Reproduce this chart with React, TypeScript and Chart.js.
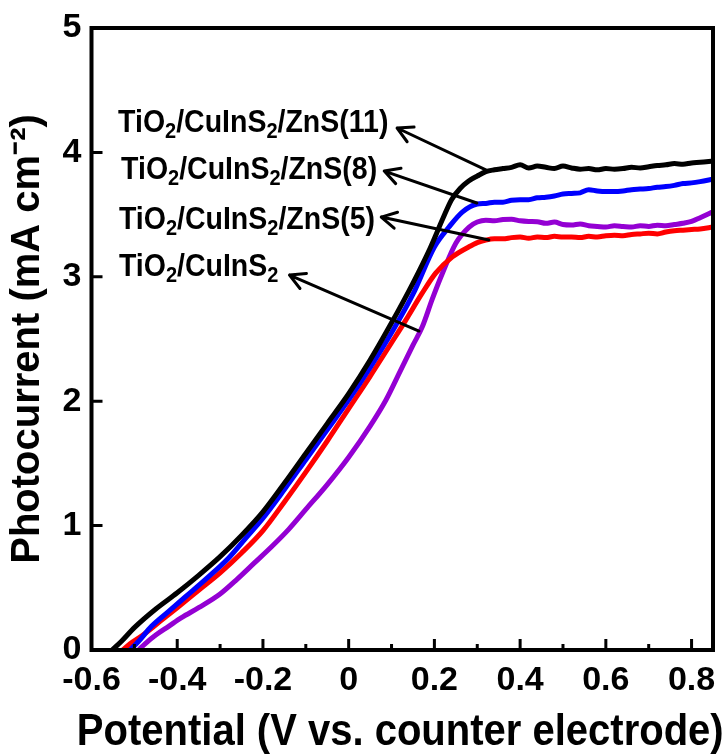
import React, { useEffect, useRef } from 'react';
import { Chart, registerables } from 'chart.js';

Chart.register(...registerables);

const FONT = '"Liberation Sans", Arial, Helvetica, sans-serif';

// ---- axis ticks / titles ----
const xMajorTicks = [-0.6, -0.4, -0.2, 0, 0.2, 0.4, 0.6, 0.8];
const xMinorTicks = [-0.5, -0.3, -0.1, 0.1, 0.3, 0.5, 0.7];
const yMajorTicks = [0, 1, 2, 3, 4, 5];
const xTitle = 'Potential (V vs. counter electrode)';
const yTitle = 'Photocurrent (mA cm\u207B\u00B2)';

// ---- series: TiO2/CuInS2/ZnS(11) (black) ----
const zns11Potential = [-0.552, -0.53, -0.5, -0.45, -0.4, -0.35, -0.3, -0.25, -0.2, -0.15, -0.1, -0.05,
  0, 0.05, 0.1, 0.15, 0.19, 0.22, 0.24, 0.26, 0.28, 0.3,
  0.32, 0.34, 0.36, 0.38, 0.4, 0.42, 0.44, 0.46, 0.48, 0.5, 0.52, 0.54, 0.56, 0.58, 0.6, 0.62, 0.64,
  0.66, 0.68, 0.7, 0.72, 0.74, 0.76, 0.78, 0.8, 0.82, 0.85];
const zns11Current = [0, 0.07, 0.18, 0.33, 0.46, 0.6, 0.75, 0.92, 1.11, 1.34, 1.58, 1.82,
  2.06, 2.33, 2.63, 2.95, 3.23, 3.47, 3.62, 3.71, 3.77, 3.81,
  3.845, 3.86, 3.87, 3.88, 3.9, 3.875, 3.89, 3.88, 3.87, 3.89, 3.875, 3.865, 3.87, 3.86, 3.87, 3.865, 3.87,
  3.88, 3.875, 3.885, 3.895, 3.9, 3.91, 3.905, 3.915, 3.92, 3.93];

// ---- series: TiO2/CuInS2/ZnS(8) (blue) ----
const zns8Potential = [-0.51, -0.49, -0.46, -0.42, -0.38, -0.33, -0.28, -0.24, -0.2, -0.15, -0.1, -0.05,
  0, 0.05, 0.1, 0.15, 0.2, 0.234, 0.265, 0.3,
  0.32, 0.34, 0.36, 0.38, 0.4, 0.42, 0.44, 0.46, 0.48, 0.5, 0.52, 0.54, 0.56, 0.58, 0.6, 0.62, 0.64,
  0.66, 0.68, 0.7, 0.72, 0.74, 0.76, 0.78, 0.8, 0.82, 0.85];
const zns8Current = [0, 0.07, 0.19, 0.31, 0.43, 0.58, 0.74, 0.9, 1.06, 1.29, 1.53, 1.77,
  2.01, 2.27, 2.55, 2.86, 3.24, 3.4, 3.52, 3.585,
  3.59, 3.6, 3.6, 3.615, 3.62, 3.62, 3.635, 3.64, 3.65, 3.665, 3.67, 3.675, 3.7, 3.69, 3.685, 3.685, 3.69,
  3.7, 3.705, 3.71, 3.72, 3.725, 3.735, 3.75, 3.755, 3.765, 3.785];

// ---- series: TiO2/CuInS2/ZnS(5) (red) ----
const zns5Potential = [-0.527, -0.51, -0.48, -0.44, -0.4, -0.35, -0.3, -0.25, -0.2, -0.15, -0.1, -0.05,
  0, 0.05, 0.1, 0.133, 0.17, 0.203, 0.242, 0.28, 0.3,
  0.32, 0.34, 0.36, 0.38, 0.4, 0.42, 0.44, 0.46, 0.48, 0.5, 0.52, 0.54, 0.56, 0.58, 0.6, 0.62, 0.64,
  0.66, 0.68, 0.7, 0.72, 0.74, 0.76, 0.78, 0.8, 0.82, 0.85];
const zns5Current = [0, 0.05, 0.12, 0.23, 0.34, 0.48, 0.62, 0.78, 0.96, 1.19, 1.43, 1.68,
  1.94, 2.2, 2.47, 2.65, 2.86, 3.03, 3.16, 3.24, 3.275,
  3.295, 3.305, 3.305, 3.315, 3.32, 3.31, 3.32, 3.315, 3.325, 3.32, 3.32, 3.315, 3.325, 3.32, 3.33, 3.335, 3.33,
  3.34, 3.345, 3.35, 3.345, 3.36, 3.37, 3.375, 3.38, 3.385, 3.4];

// ---- series: TiO2/CuInS2 (purple) ----
const cuinsPotential = [-0.49, -0.475, -0.45, -0.42, -0.39, -0.35, -0.3, -0.26, -0.22, -0.18, -0.14, -0.1,
  -0.05, 0, 0.05, 0.087, 0.12, 0.15, 0.172, 0.195, 0.219, 0.25, 0.281, 0.3,
  0.32, 0.34, 0.36, 0.38, 0.4, 0.42, 0.44, 0.46, 0.48, 0.5, 0.52, 0.54, 0.56, 0.58, 0.6, 0.62, 0.64,
  0.66, 0.68, 0.7, 0.72, 0.74, 0.76, 0.78, 0.8, 0.82, 0.85];
const cuinsCurrent = [0, 0.05, 0.12, 0.19, 0.26, 0.34, 0.45, 0.57, 0.7, 0.83, 0.97, 1.13,
  1.33, 1.55, 1.8, 2.01, 2.24, 2.45, 2.6, 2.82, 3.03, 3.27, 3.4, 3.44,
  3.455, 3.45, 3.46, 3.462, 3.45, 3.445, 3.443, 3.43, 3.44, 3.42, 3.416, 3.425, 3.41, 3.405, 3.4, 3.41, 3.405,
  3.4, 3.41, 3.405, 3.415, 3.41, 3.42, 3.43, 3.445, 3.475, 3.523];

const seriesNames = ['TiO2/CuInS2/ZnS(11)', 'TiO2/CuInS2/ZnS(8)', 'TiO2/CuInS2/ZnS(5)', 'TiO2/CuInS2'];
const seriesColors = ['#000000', '#0000ff', '#ff0000', '#9400d3'];
const seriesPotentials = [zns11Potential, zns8Potential, zns5Potential, cuinsPotential];
const seriesCurrents = [zns11Current, zns8Current, zns5Current, cuinsCurrent];

// ---- annotations (text with subscripts, arrows) in data units ----
const labelSegments: [string, boolean][][] = [
  [['TiO', false], ['2', true], ['/CuInS', false], ['2', true], ['/ZnS(11)', false]],
  [['TiO', false], ['2', true], ['/CuInS', false], ['2', true], ['/ZnS(8)', false]],
  [['TiO', false], ['2', true], ['/CuInS', false], ['2', true], ['/ZnS(5)', false]],
  [['TiO', false], ['2', true], ['/CuInS', false], ['2', true]],
];
const labelX = [-0.538, -0.531, -0.536, -0.536];
const labelY = [4.25, 3.875, 3.473, 3.095];
const arrowTailX = [0.32, 0.299, 0.327, 0.164];
const arrowTailY = [3.86, 3.593, 3.296, 2.564];
const arrowHeadX = [0.113, 0.083, 0.076, -0.138];
const arrowHeadY = [4.196, 3.85, 3.48, 3.014];

const LABEL_SIZE = 28.5;
const SUB_SIZE = 20;
const TEXT_STRETCH = 1.08;

const framePlugin = {
  id: 'frameAndTicks',
  afterDatasetsDraw(chart: any) {
    const { ctx, chartArea: a, scales } = chart;
    const xs = scales.x;
    const ys = scales.y;
    ctx.save();
    ctx.strokeStyle = '#000';
    ctx.lineCap = 'butt';
    ctx.lineWidth = 3;
    ctx.beginPath();
    xMajorTicks.forEach((v) => {
      const px = xs.getPixelForValue(v);
      ctx.moveTo(px, a.bottom);
      ctx.lineTo(px, a.bottom - 11);
    });
    xMinorTicks.forEach((v) => {
      const px = xs.getPixelForValue(v);
      ctx.moveTo(px, a.bottom);
      ctx.lineTo(px, a.bottom - 6);
    });
    yMajorTicks.forEach((v) => {
      const py = ys.getPixelForValue(v);
      ctx.moveTo(a.left, py);
      ctx.lineTo(a.left + 11, py);
    });
    ctx.stroke();
    ctx.lineWidth = 4;
    ctx.strokeRect(a.left, a.top, a.right - a.left, a.bottom - a.top);

    // x axis title (drawn here so it is not squeezed to the plot width)
    ctx.fillStyle = '#000';
    ctx.font = `bold 40px ${FONT}`;
    ctx.textAlign = 'center';
    ctx.textBaseline = 'alphabetic';
    ctx.translate((a.left + a.right) / 2 - 2, 745);
    ctx.scale(1, 1.1);
    ctx.fillText(xTitle, 0, 0);
    ctx.restore();
  },
};

const annotationPlugin = {
  id: 'labelsAndArrows',
  afterDatasetsDraw(chart: any) {
    const { ctx, scales } = chart;
    const xs = scales.x;
    const ys = scales.y;
    ctx.save();
    ctx.fillStyle = '#000';
    ctx.strokeStyle = '#000';
    ctx.textAlign = 'left';
    ctx.textBaseline = 'alphabetic';
    labelSegments.forEach((segs, i) => {
      let px = xs.getPixelForValue(labelX[i]);
      const mid = ys.getPixelForValue(labelY[i]);
      const base = mid + 0.358 * LABEL_SIZE * TEXT_STRETCH;
      segs.forEach(([t, sub]) => {
        ctx.font = `bold ${sub ? SUB_SIZE : LABEL_SIZE}px ${FONT}`;
        ctx.save();
        ctx.translate(px, sub ? base + 6 : base);
        ctx.scale(1, TEXT_STRETCH);
        ctx.fillText(t, 0, 0);
        ctx.restore();
        px += ctx.measureText(t).width;
      });
    });
    ctx.lineWidth = 3;
    ctx.lineCap = 'round';
    ctx.lineJoin = 'round';
    for (let i = 0; i < arrowTailX.length; i++) {
      const tx = xs.getPixelForValue(arrowTailX[i]);
      const ty = ys.getPixelForValue(arrowTailY[i]);
      const hx = xs.getPixelForValue(arrowHeadX[i]);
      const hy = ys.getPixelForValue(arrowHeadY[i]);
      const ang = Math.atan2(hy - ty, hx - tx);
      const L = 17;
      const spread = 0.5;
      ctx.beginPath();
      ctx.moveTo(tx, ty);
      ctx.lineTo(hx, hy);
      ctx.moveTo(hx - L * Math.cos(ang - spread), hy - L * Math.sin(ang - spread));
      ctx.lineTo(hx, hy);
      ctx.lineTo(hx - L * Math.cos(ang + spread), hy - L * Math.sin(ang + spread));
      ctx.stroke();
    }
    ctx.restore();
  },
};

export default function App() {
  const canvasRef = useRef<HTMLCanvasElement | null>(null);

  useEffect(() => {
    const canvas = canvasRef.current;
    if (!canvas) return;
    const datasets = seriesNames.map((name, i) => ({
      label: name,
      data: seriesPotentials[i].map((x, j) => ({ x, y: seriesCurrents[i][j] })),
      borderColor: seriesColors[i],
      backgroundColor: seriesColors[i],
      borderWidth: 5,
      pointRadius: 0,
      cubicInterpolationMode: 'monotone' as const,
      fill: false,
    }));

    const chart = new Chart(canvas, {
      type: 'line',
      data: { datasets },
      options: {
        animation: false,
        responsive: false,
        devicePixelRatio: 1,
        layout: { padding: { top: 28, right: 15, left: 0, bottom: 0 } },
        plugins: { legend: { display: false }, tooltip: { enabled: false } },
        scales: {
          x: {
            type: 'linear',
            min: -0.6,
            max: 0.85,
            grid: { display: false, drawTicks: false },
            border: { display: false },
            afterBuildTicks: (s: any) => {
              s.ticks = xMajorTicks.map((value) => ({ value }));
            },
            ticks: {
              autoSkip: false,
              maxRotation: 0,
              padding: 10,
              color: '#000',
              font: { family: FONT, size: 34, weight: 'bold' },
              callback: (v: any) => (Math.abs(Number(v)) < 1e-9 ? '0' : Number(v).toFixed(1)),
            },
            title: { display: false },
            afterFit: (s: any) => {
              s.height = 106;
              s.paddingLeft = 0;
              s.paddingRight = 0;
            },
          },
          y: {
            type: 'linear',
            min: 0,
            max: 5,
            grid: { display: false, drawTicks: false },
            border: { display: false },
            afterBuildTicks: (s: any) => {
              s.ticks = yMajorTicks.map((value) => ({ value }));
            },
            ticks: {
              padding: 10,
              color: '#000',
              font: { family: FONT, size: 34, weight: 'bold' },
            },
            title: {
              display: true,
              text: yTitle,
              color: '#000',
              font: { family: FONT, size: 40, weight: 'bold' },
              padding: { top: 4, bottom: 0 },
            },
            afterFit: (s: any) => {
              s.width = 91.5;
              s.paddingTop = 0;
              s.paddingBottom = 0;
            },
          },
        },
      },
      plugins: [framePlugin, annotationPlugin],
    });
    return () => chart.destroy();
  }, []);

  return (
    <div style={{ position: 'absolute', left: 0, top: 0, width: 728, height: 756, background: '#fff' }}>
      <canvas ref={canvasRef} width={728} height={756} style={{ display: 'block' }} />
    </div>
  );
}
